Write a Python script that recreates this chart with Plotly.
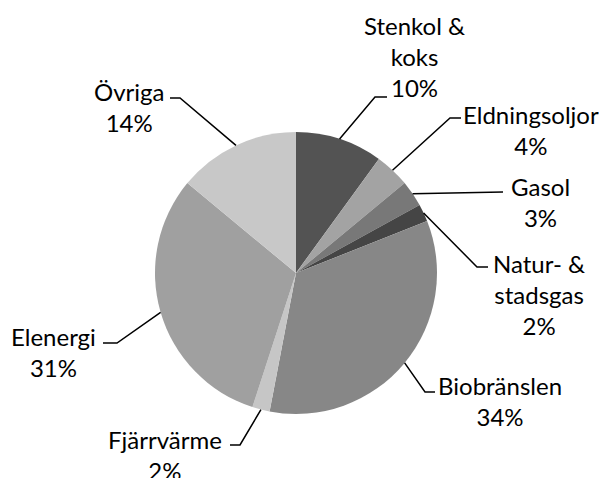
import math
import plotly.graph_objects as go

# the page body has an 8px margin; map reference pixels onto the figure
OFF = 8
W, H = 607 - OFF, 478 - OFF

# ---- data ----
labels = ["Stenkol & koks", "Eldningsoljor", "Gasol", "Natur- & stadsgas",
          "Biobränslen", "Fjärrvärme", "Elenergi", "Övriga"]
label_lines = ["Stenkol &<br>koks", "Eldningsoljor", "Gasol", "Natur- &<br>stadsgas",
               "Biobränslen", "Fjärrvärme", "Elenergi", "Övriga"]
values = [10, 4, 3, 2, 34, 2, 31, 14]
colors = ["#535353", "#a3a3a3", "#787878", "#454545",
          "#878787", "#c6c6c6", "#a0a0a0", "#c8c8c8"]

# ---- layout config (reference-pixel positions of pie and label boxes) ----
cx, cy, R = 296, 273, 141
label_pos = [(414, 57), (531, 129.5), (540, 201.5), (539, 294),
             (500, 401), (165, 454.5), (53, 351.5), (129, 107)]
# leader line elbow & end (pixels); None -> straight line to end
leader = [((375, 97), (387, 97)),
          ((450, 118), (461, 118)),
          (None, (503, 192)),
          ((477, 267), (488, 267)),
          ((425, 392), (435, 392)),
          ((240, 445), (230, 445)),
          ((117, 343), (103, 343)),
          ((180, 98), (170, 98))]

def px(x):
    return (x - OFF) / W

def py(y):
    return 1 - (y - OFF) / H

fig = go.Figure(go.Pie(
    labels=labels, values=values, sort=False, direction="clockwise", rotation=0,
    marker=dict(colors=colors, line=dict(width=0)),
    textinfo="none", hoverinfo="label+percent", showlegend=False,
    domain=dict(x=[px(cx - R), px(cx + R)], y=[py(cy + R), py(cy - R)]),
))

total = sum(values)
annotations = []
shapes = []
cum = 0
for i, v in enumerate(values):
    mid = (cum + v / 2) / total * 2 * math.pi
    cum += v
    sx = cx + R * math.sin(mid)
    sy = cy - R * math.cos(mid)
    pct = round(v / total * 100)
    lx, ly = label_pos[i]
    annotations.append(dict(
        x=px(lx), y=py(ly), xref="paper", yref="paper",
        text=f"{label_lines[i]}<br>{pct}%", showarrow=False,
        xanchor="center", yanchor="middle", align="center",
        font=dict(family="Lato", size=24, color="#000000")))
    elbow, end = leader[i]
    pts = [(sx, sy)] + ([elbow] if elbow else []) + [end]
    path = "M " + " L ".join(f"{px(a)},{py(b)}" for a, b in pts)
    shapes.append(dict(type="path", path=path, xref="paper", yref="paper",
                       line=dict(color="#000000", width=1.5)))

fig.update_layout(
    width=W, height=H, margin=dict(l=0, r=0, t=0, b=0),
    paper_bgcolor="#ffffff", plot_bgcolor="#ffffff",
    annotations=annotations, shapes=shapes,
)

fig.write_html("out.html")
